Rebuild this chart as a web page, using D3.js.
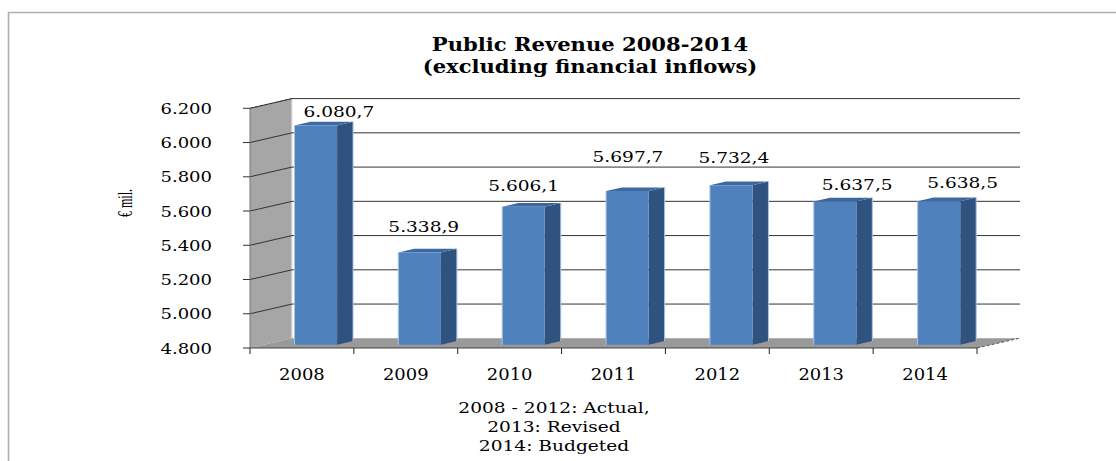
<!DOCTYPE html>
<html>
<head>
<meta charset="utf-8">
<script src="https://cdn.jsdelivr.net/npm/d3@7"></script>
<style>
  html, body { margin: 0; padding: 0; background: #fff; }
  svg { display: block; }
  text { font-family: "DejaVu Serif", serif; fill: #000; }
</style>
</head>
<body>
<svg id="chart" width="1116" height="461"></svg>
<script>
// Public revenue, € million
const years = ["2008", "2009", "2010", "2011", "2012", "2013", "2014"];
const revenue = [6080.7, 5338.9, 5606.1, 5697.7, 5732.4, 5637.5, 5638.5];
const yTicks = [4800, 5000, 5200, 5400, 5600, 5800, 6000, 6200];
const titleLines = ["Public Revenue 2008-2014", "(excluding financial inflows)"];
const yTitle = "€ mil.";
const footnote = ["2008 - 2012: Actual,", "2013: Revised", "2014: Budgeted"];

// European number style: 6.080,7
const locale = d3.formatLocale({ decimal: ",", thousands: ".", grouping: [3], currency: ["", "€"] });
const fmtTick = locale.format(",");
const fmtVal = locale.format(",.1f");

const svg = d3.select("#chart");

// Oblique 3D projection: depth z in [0,1] shifts right and up
const DX = 42, DY = -9.7;
const left = 250, right = 977;
const y = d3.scaleLinear().domain([4800, 6200]).range([348, 108.3]);
const xCat = d3.scaleBand().domain(years).range([left, right]).padding(0);
const xBar = d3.scaleBand().domain(years).range([left, right]).paddingInner(0.59).paddingOuter(0.295);
const proj = (x, v, z) => [x + DX * z, y(v) + DY * z];
const poly = pts => "M" + pts.map(p => p.join(",")).join("L") + "Z";

// Stretch text horizontally to suit the wide serif face
function widen(sel, k) {
  sel.each(function () {
    const w = this.getComputedTextLength();
    d3.select(this).attr("textLength", w * k).attr("lengthAdjust", "spacingAndGlyphs");
  });
}

// Outer frame (top and left edges visible)
svg.append("path").attr("d", "M8.5,461V12.5H1116")
  .attr("fill", "none").attr("stroke", "#aeaeae").attr("stroke-width", 1.6);

// Title
svg.append("g").selectAll("text").data(titleLines).join("text")
  .attr("x", 590).attr("y", (d, i) => 51 + i * 22)
  .attr("text-anchor", "middle")
  .attr("font-size", 19).attr("font-weight", "bold")
  .text(d => d)
  .call(widen, 1.11);

const [yLo, yHi] = y.domain();

// Side wall
svg.append("path")
  .attr("d", poly([proj(left, yLo, 0), proj(left, yHi, 0), proj(left, yHi, 1), proj(left, yLo, 1)]))
  .attr("fill", "#a6a6a6");
svg.append("path")
  .attr("d", "M" + proj(left, yHi, 0) + "L" + proj(left, yHi, 1))
  .attr("stroke", "#666").attr("stroke-dasharray", "3,2").attr("fill", "none");
svg.append("path")
  .attr("d", "M" + proj(left, yLo, 1) + "L" + proj(left, yHi, 1))
  .attr("stroke", "#e6e6e6").attr("stroke-width", 1.2).attr("fill", "none");

// Floor
svg.append("path")
  .attr("d", poly([proj(left, yLo, 0), proj(right, yLo, 0), proj(right, yLo, 1), proj(left, yLo, 1)]))
  .attr("fill", "#999");
svg.append("path")
  .attr("d", "M" + proj(right, yLo, 0) + "L" + proj(right, yLo, 1))
  .attr("stroke", "#555").attr("stroke-dasharray", "3,2").attr("fill", "none");

// Gridlines on the side wall and the back wall
const grid = svg.append("g");
yTicks.filter(v => v > yLo).forEach(v => {
  grid.append("path")
    .attr("d", "M" + proj(left, v, 0) + "L" + proj(left, v, 1) + "L" + [right + DX + 1, y(v) + DY])
    .attr("fill", "none").attr("stroke", "#333").attr("stroke-width", 1);
});

// Value axis line and ticks
svg.append("path")
  .attr("d", "M" + proj(left, yLo, 0) + "L" + proj(left, yHi, 0))
  .attr("stroke", "#777").attr("stroke-width", 1).attr("fill", "none");
svg.append("g").selectAll("line").data(yTicks).join("line")
  .attr("x1", left - 7).attr("x2", left)
  .attr("y1", d => y(d)).attr("y2", d => y(d))
  .attr("stroke", "#333");
svg.append("g").selectAll("text").data(yTicks).join("text")
  .attr("x", 212).attr("y", d => y(d) + 5.5)
  .attr("text-anchor", "end")
  .attr("font-size", 15)
  .text(d => fmtTick(d))
  .call(widen, 1.2);

// Category axis line, ticks and labels
svg.append("line")
  .attr("x1", left).attr("x2", right).attr("y1", y(yLo)).attr("y2", y(yLo))
  .attr("stroke", "#444").attr("stroke-width", 1.2);
const catEdges = years.map(d => xCat(d)).concat([right]);
svg.append("g").selectAll("line").data(catEdges).join("line")
  .attr("x1", d => d).attr("x2", d => d)
  .attr("y1", y(yLo)).attr("y2", y(yLo) + 6)
  .attr("stroke", "#222");
svg.append("g").selectAll("text").data(years).join("text")
  .attr("x", d => xCat(d) + xCat.bandwidth() / 2).attr("y", 379.5)
  .attr("text-anchor", "middle")
  .attr("font-size", 16)
  .text(d => d)
  .call(widen, 1.12);

// Bars
const z0 = 0.33, z1 = 0.71;
const bars = svg.append("g");
years.forEach((yr, i) => {
  const v = revenue[i];
  const x0 = xBar(yr), x1 = x0 + xBar.bandwidth();
  const g = bars.append("g");
  g.append("path")
    .attr("d", poly([proj(x1, yLo, z0), proj(x1, yLo, z1), proj(x1, v, z1), proj(x1, v, z0)]))
    .attr("fill", "#30527e");
  g.append("path")
    .attr("d", poly([proj(x0, v, z0), proj(x1, v, z0), proj(x1, v, z1), proj(x0, v, z1)]))
    .attr("fill", "#3d68a2");
  g.append("path")
    .attr("d", poly([proj(x0, yLo, z0), proj(x1, yLo, z0), proj(x1, v, z0), proj(x0, v, z0)]))
    .attr("fill", "#4f81bd");
  // light rim along the outer edges
  g.append("path")
    .attr("d", "M" + proj(x0, yLo, z0) + "L" + proj(x0, v, z0))
    .attr("stroke", "#a9c2e4").attr("stroke-width", 1).attr("fill", "none");
  g.append("path")
    .attr("d", "M" + proj(x1, yLo, z1) + "L" + proj(x1, v, z1))
    .attr("stroke", "#a9c2e4").attr("stroke-width", 1).attr("fill", "none");
});

// Value labels, offset from the top-front edge of each bar
const labelOffsets = [[37, -8.8], [18, -20.5], [14, -16], [14.5, -29.4], [16.5, -22.5], [36, -11.4], [37.6, -13]];
svg.append("g").selectAll("text").data(revenue).join("text")
  .attr("x", (d, i) => xCat(years[i]) + xCat.bandwidth() / 2 + labelOffsets[i][0])
  .attr("y", (d, i) => proj(0, d, z0)[1] + labelOffsets[i][1])
  .attr("text-anchor", "middle")
  .attr("font-size", 14.5)
  .text(d => fmtVal(d))
  .call(widen, 1.28);

// Axis title
svg.append("text")
  .attr("transform", "translate(132,203) rotate(-90)")
  .attr("text-anchor", "middle")
  .style("font-family", "'Liberation Serif', serif")
  .attr("font-size", 20)
  .attr("textLength", 28).attr("lengthAdjust", "spacingAndGlyphs")
  .text(yTitle);

// Footnote
svg.append("g").selectAll("text").data(footnote).join("text")
  .attr("x", 554).attr("y", (d, i) => 412.7 + i * 19.2)
  .attr("text-anchor", "middle")
  .attr("font-size", 15.5)
  .text(d => d)
  .call(widen, 1.2);
</script>
</body>
</html>
